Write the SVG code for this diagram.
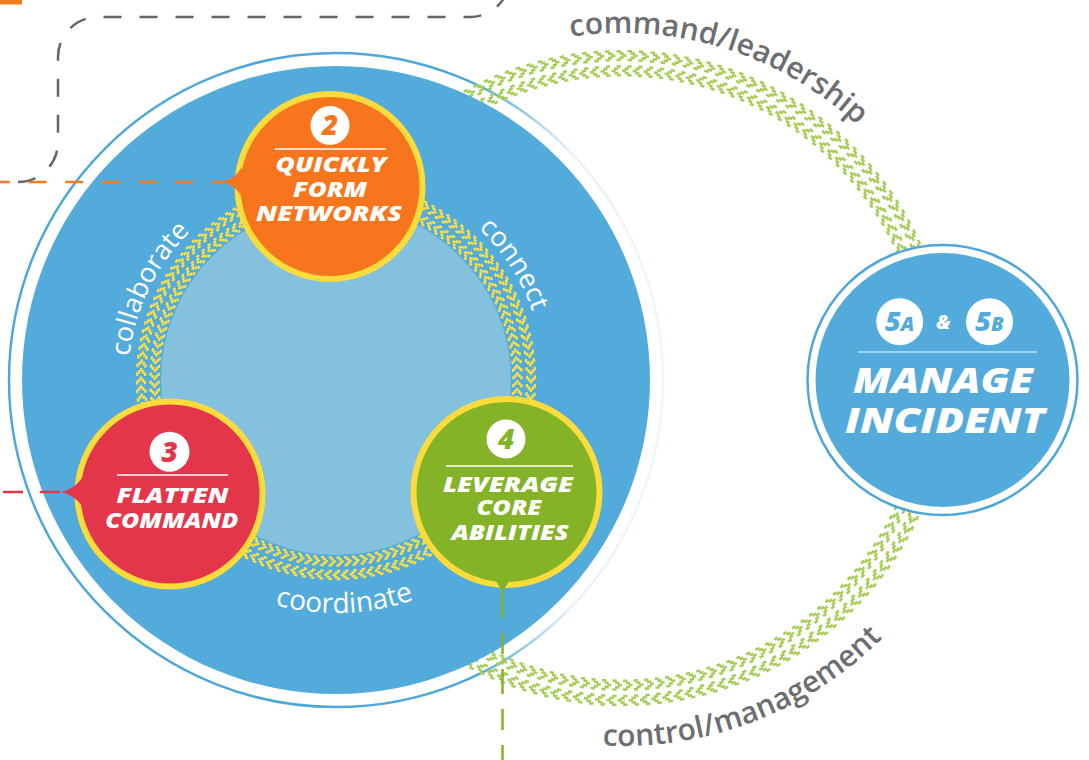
<svg xmlns="http://www.w3.org/2000/svg" width="1089" height="760" viewBox="0 0 1089 760">
<defs>
<linearGradient id="ringGrad" gradientUnits="userSpaceOnUse" x1="9" y1="0" x2="663" y2="0">
<stop offset="0" stop-color="#4EA7DA"/>
<stop offset="0.72" stop-color="#4EA7DA"/>
<stop offset="0.86" stop-color="#E6F3FA"/>
<stop offset="1" stop-color="#EEF7FB"/>
</linearGradient>
<path id="pCollab" d="M176.7,513.7 A208,208 0 0 1 264.9,184.5"/>
<path id="pConnect" d="M336,172 A208,208 0 0 1 516.1,484"/>
<path id="pCoord" d="M134.2,496.5 A233,233 0 0 0 537.8,496.5"/>
<path id="pCommand" d="M504,53.8 A345,345 0 0 1 920.8,205.5"/>
<path id="pControl" d="M438,696.7 A368,368 0 0 0 967.8,503.9"/>
</defs>
<style>
.yc{fill:none;stroke:#FBDF45;stroke-width:2.4;stroke-dasharray:4.2 5.8}
.gc{fill:none;stroke:#A6CE58;stroke-width:2.6;stroke-dasharray:4 6}
.lbl{font-family:"Open Sans","Liberation Sans",sans-serif;fill:#ffffff;font-size:27px}
.glbl{font-family:"Open Sans","Liberation Sans",sans-serif;fill:#6D6E71;font-size:30px;font-weight:600}
.nt{font-family:"Open Sans","Liberation Sans",sans-serif;font-weight:800;font-style:italic;fill:#ffffff;font-size:21.5px;text-anchor:middle}
.mt{font-family:"Open Sans","Liberation Sans",sans-serif;font-weight:800;font-style:italic;fill:#ffffff;font-size:36px;text-anchor:middle}
.bd{font-family:"Open Sans","Liberation Sans",sans-serif;font-weight:800;font-style:italic;font-size:28px;text-anchor:middle}
.sep{stroke:#ffffff;stroke-width:1.3}
.ring{stroke:#FBDC3B;stroke-width:6}
</style>

<!-- background decorations -->
<rect x="0" y="0" width="22" height="4.5" fill="#F47B20"/>
<path d="M18,182 A40,40 0 0 0 58,142 V57 A40,40 0 0 1 98,17 H470 A40,40 0 0 0 510,-23" fill="none" stroke="#666666" stroke-width="2.5" stroke-dasharray="18 18"/>

<!-- big circle outer ring -->
<circle cx="336" cy="380" r="327" fill="none" stroke="url(#ringGrad)" stroke-width="2.5"/>

<!-- green chevron tracks (command/leadership & control/management) -->
<g id="green-track">
<circle cx="622" cy="378" r="318" pathLength="1800" class="gc" stroke-dashoffset="5"/>
<circle cx="622" cy="378" r="320.2" pathLength="1800" class="gc" stroke-dashoffset="2.5"/>
<circle cx="622" cy="378" r="322.4" pathLength="1800" class="gc" stroke-dashoffset="0"/>
<circle cx="622" cy="378" r="324.6" pathLength="1800" class="gc" stroke-dashoffset="2.5"/>
<circle cx="622" cy="378" r="326.8" pathLength="1800" class="gc" stroke-dashoffset="5"/>
<circle cx="622" cy="378" r="302.8" pathLength="1800" class="gc" stroke-dashoffset="5"/>
<circle cx="622" cy="378" r="305" pathLength="1800" class="gc" stroke-dashoffset="7.5"/>
<circle cx="622" cy="378" r="307.2" pathLength="1800" class="gc" stroke-dashoffset="0"/>
<circle cx="622" cy="378" r="309.4" pathLength="1800" class="gc" stroke-dashoffset="7.5"/>
<circle cx="622" cy="378" r="311.6" pathLength="1800" class="gc" stroke-dashoffset="5"/>
</g>

<!-- big circle fill -->
<circle cx="336" cy="380" r="314" fill="#53ABDB"/>
<circle cx="336" cy="380" r="175" fill="#83C1DF"/>

<!-- yellow chevron track -->
<g id="yellow-track">
<circle cx="336" cy="380" r="191" pathLength="1440" class="yc" stroke-dashoffset="5.2"/>
<circle cx="336" cy="380" r="193" pathLength="1440" class="yc" stroke-dashoffset="2.6"/>
<circle cx="336" cy="380" r="195" pathLength="1440" class="yc" stroke-dashoffset="0"/>
<circle cx="336" cy="380" r="197" pathLength="1440" class="yc" stroke-dashoffset="2.6"/>
<circle cx="336" cy="380" r="199" pathLength="1440" class="yc" stroke-dashoffset="5.2"/>
<circle cx="336" cy="380" r="177.5" pathLength="1440" class="yc" stroke-dashoffset="4.8"/>
<circle cx="336" cy="380" r="179.5" pathLength="1440" class="yc" stroke-dashoffset="7.4"/>
<circle cx="336" cy="380" r="181.5" pathLength="1440" class="yc" stroke-dashoffset="0"/>
<circle cx="336" cy="380" r="183.5" pathLength="1440" class="yc" stroke-dashoffset="7.4"/>
<circle cx="336" cy="380" r="185.5" pathLength="1440" class="yc" stroke-dashoffset="4.8"/>
</g>

<!-- connectors -->
<g id="connectors">
<path d="M230,182 H0" stroke="#F47B20" stroke-width="2.5" stroke-dasharray="18 18.7" fill="none"/>
<path d="M60,492 H0" stroke="#E3364B" stroke-width="2.5" stroke-dasharray="20 17" fill="none"/>
<path d="M502.5,593 V760" stroke="#84B327" stroke-width="2.5" stroke-dasharray="25 15 21 15" fill="none"/>
<text class="lbl"><textPath href="#pCollab" startOffset="60%" text-anchor="middle">collaborate</textPath></text>
<text class="lbl"><textPath href="#pConnect" startOffset="47.5%" text-anchor="middle">connect</textPath></text>
<text class="lbl" style="font-size:28px"><textPath href="#pCoord" startOffset="51.8%" text-anchor="middle">coordinate</textPath></text>
<text class="glbl"><textPath href="#pCommand" startOffset="46.5%" text-anchor="middle">command/leadership</textPath></text>
<text class="glbl"><textPath href="#pControl" startOffset="51%" text-anchor="middle">control/management</textPath></text>
</g>

<!-- node 2 -->
<g id="node2">
<circle cx="330" cy="186.5" r="92.5" fill="#F7761D" class="ring"/>
<path d="M222,182 C231,180 237,175 242,167 L242,197 C237,189 231,184 222,182 Z" fill="#F7761D"/>
<circle cx="330" cy="125.5" r="19.5" fill="#ffffff"/>
<text x="330" y="135" class="bd" fill="#F7761D">2</text>
<line x1="275" y1="149" x2="386" y2="149" class="sep"/>
<text x="331" y="172" class="nt" textLength="111" lengthAdjust="spacingAndGlyphs">QUICKLY</text>
<text x="330" y="197" class="nt" textLength="74" lengthAdjust="spacingAndGlyphs">FORM</text>
<text x="329" y="221" class="nt" textLength="146" lengthAdjust="spacingAndGlyphs">NETWORKS</text>
</g>

<!-- node 3 -->
<g id="node3">
<circle cx="170" cy="494" r="92.5" fill="#E3364B" class="ring"/>
<path d="M61,492 C70,490 77,485 82,478 L82,506 C77,499 70,494 61,492 Z" fill="#E3364B"/>
<circle cx="169.5" cy="451.7" r="20" fill="#ffffff"/>
<text x="169.5" y="461.5" class="bd" fill="#E3364B">3</text>
<line x1="117" y1="475" x2="228" y2="475" class="sep"/>
<text x="172.5" y="503" class="nt" textLength="112" lengthAdjust="spacingAndGlyphs">FLATTEN</text>
<text x="171.7" y="528" class="nt" textLength="133" lengthAdjust="spacingAndGlyphs">COMMAND</text>
</g>

<!-- node 4 -->
<g id="node4">
<circle cx="506.5" cy="492" r="93" fill="#84B327" class="ring"/>
<path d="M502.5,596 C501.5,588 497,583 493,578 L512,578 C508,583 503.5,588 502.5,596 Z" fill="#84B327"/>
<circle cx="506" cy="439" r="19.5" fill="#ffffff"/>
<text x="506" y="448.5" class="bd" fill="#84B327">4</text>
<line x1="446" y1="466" x2="573" y2="466" class="sep"/>
<text x="508" y="492" class="nt" textLength="130" lengthAdjust="spacingAndGlyphs">LEVERAGE</text>
<text x="509" y="515" class="nt" textLength="65" lengthAdjust="spacingAndGlyphs">CORE</text>
<text x="510" y="540" class="nt" textLength="117" lengthAdjust="spacingAndGlyphs">ABILITIES</text>
</g>

<!-- manage incident -->
<g id="node5">
<circle cx="942.5" cy="380" r="135" fill="#ffffff" stroke="#4EA7DA" stroke-width="2.5"/>
<circle cx="942.5" cy="380" r="127" fill="#53ABDB"/>
<circle cx="899.7" cy="321.7" r="23.5" fill="#ffffff"/>
<circle cx="989.5" cy="321.7" r="23.5" fill="#ffffff"/>
<text x="899.7" y="331" class="bd" fill="#53ABDB" style="font-size:27px">5<tspan style="font-size:20px">A</tspan></text>
<text x="989.5" y="331" class="bd" fill="#53ABDB" style="font-size:27px">5<tspan style="font-size:20px">B</tspan></text>
<text x="943.5" y="329" class="bd" fill="#ffffff" style="font-size:19px">&amp;</text>
<line x1="858" y1="352" x2="1037" y2="352" stroke="#BFE0F2" stroke-width="1.3"/>
<text x="943" y="393" class="mt" textLength="180" lengthAdjust="spacingAndGlyphs">MANAGE</text>
<text x="945" y="433" class="mt" textLength="200" lengthAdjust="spacingAndGlyphs">INCIDENT</text>
</g>
</svg>
